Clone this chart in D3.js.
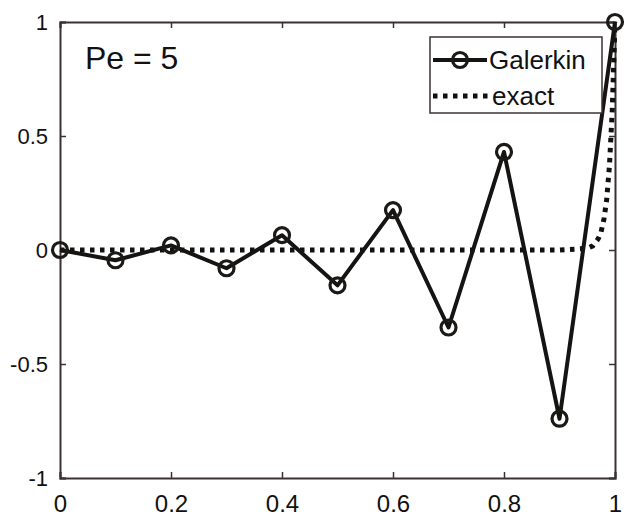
<!DOCTYPE html>
<html>
<head>
<meta charset="utf-8">
<script src="https://cdn.jsdelivr.net/npm/d3@7"></script>
<style>
  body { margin: 0; background: #fff; }
  svg text { font-family: "Liberation Sans", Arial, sans-serif; fill: #111; }
</style>
</head>
<body>
<div class="chart-area"></div>
<script>
// Galerkin solution at the nodes
var nodeX = [0, 0.1, 0.2, 0.3, 0.4, 0.5, 0.6, 0.7, 0.8, 0.9, 1.0];
var galerkinY = [0, -0.045, 0.02, -0.08, 0.065, -0.155, 0.175, -0.34, 0.43, -0.74, 1.0];

// exact solution (boundary layer near x = 1)
var exactX = [0, 0.1, 0.2, 0.3, 0.4, 0.5, 0.6, 0.7, 0.8, 0.9, 0.95, 0.96, 0.97, 0.975, 0.98, 0.985, 0.99, 0.995, 1.0];
var exactY = [0, 0, 0, 0, 0, 0, 0, 0, 0, 0, 0.007, 0.018, 0.05, 0.08, 0.135, 0.22, 0.37, 0.61, 1.0];

var xTicks = [0, 0.2, 0.4, 0.6, 0.8, 1];
var yTicks = [-1, -0.5, 0, 0.5, 1];
var yTickLabels = ["-1", "-0.5", "0", "0.5", "1"];

var margin = {top: 22, right: 11, bottom: 54, left: 60},
    W = 626, H = 532,
    width = W - margin.left - margin.right,
    height = H - margin.top - margin.bottom;

var svg = d3.select(".chart-area").append("svg")
    .attr("width", W)
    .attr("height", H);

var g = svg.append("g")
    .attr("transform", "translate(" + margin.left + "," + margin.top + ")");

var x = d3.scaleLinear().domain([0, 1]).range([0, width]);
var y = d3.scaleLinear().domain([-1, 1]).range([height, 0]);

var axisColor = "#3a3232";

// axes with inward ticks
var xAxis = g.append("g")
    .attr("transform", "translate(0," + height + ")")
    .call(d3.axisBottom(x).tickValues(xTicks).tickSize(-6).tickPadding(17)
        .tickFormat(function(d){ return d3.format("")(d); }));
xAxis.selectAll("text").style("font-size", "24px").attr("dy", "0.71em");

var xTop = g.append("g")
    .call(d3.axisTop(x).tickValues(xTicks).tickSize(-6).tickFormat(""));

var yAxis = g.append("g")
    .call(d3.axisLeft(y).tickValues(yTicks).tickSize(-6).tickPadding(12)
        .tickFormat(function(d, i){ return yTickLabels[i]; }));
yAxis.selectAll("text").style("font-size", "22px");

var yRight = g.append("g")
    .attr("transform", "translate(" + width + ",0)")
    .call(d3.axisRight(y).tickValues(yTicks).tickSize(-6).tickFormat(""));

[xAxis, xTop, yAxis, yRight].forEach(function(a){
    a.select(".domain").attr("stroke", axisColor).attr("stroke-width", 2);
    a.selectAll(".tick line").attr("stroke", axisColor).attr("stroke-width", 1.5);
});

// exact solution, dotted
var exactData = exactX.map(function(d, i){ return {x: d, y: exactY[i]}; });
var galData = nodeX.map(function(d, i){ return {x: d, y: galerkinY[i]}; });

var line = d3.line()
    .x(function(d){ return x(d.x); })
    .y(function(d){ return y(d.y); });

g.append("path")
    .datum(exactData)
    .attr("d", line)
    .attr("fill", "none")
    .attr("stroke", "#111")
    .attr("stroke-width", 5)
    .attr("stroke-dasharray", "4.5,5.5");

g.append("path")
    .datum(galData)
    .attr("d", line)
    .attr("fill", "none")
    .attr("stroke", "#161412")
    .attr("stroke-width", 4)
    .attr("stroke-linejoin", "round");

g.selectAll("circle.gal")
    .data(galData)
    .enter().append("circle")
    .attr("class", "gal")
    .attr("cx", function(d){ return x(d.x); })
    .attr("cy", function(d){ return y(d.y); })
    .attr("r", 7.5)
    .attr("fill", "none")
    .attr("stroke", "#1c1a16")
    .attr("stroke-width", 3.2);

// annotation
g.append("text")
    .attr("x", 25)
    .attr("y", 47)
    .style("font-size", "32px")
    .text("Pe = 5");

// legend
var lg = g.append("g").attr("transform", "translate(" + (430 - margin.left) + "," + (37 - margin.top) + ")");
lg.append("rect")
    .attr("width", 172).attr("height", 76)
    .attr("fill", "#fff")
    .attr("stroke", axisColor).attr("stroke-width", 1.5);
lg.append("line")
    .attr("x1", 3).attr("x2", 57).attr("y1", 23).attr("y2", 23)
    .attr("stroke", "#161412").attr("stroke-width", 4);
lg.append("circle")
    .attr("cx", 30).attr("cy", 23).attr("r", 7.5)
    .attr("fill", "none").attr("stroke", "#1c1a16").attr("stroke-width", 3.2);
lg.append("text").attr("x", 59).attr("y", 32).style("font-size", "26px").text("Galerkin");
lg.append("line")
    .attr("x1", 3).attr("x2", 58).attr("y1", 59).attr("y2", 59)
    .attr("stroke", "#111").attr("stroke-width", 5)
    .attr("stroke-dasharray", "4.5,5.5");
lg.append("text").attr("x", 62).attr("y", 68).style("font-size", "26px").text("exact");
</script>
</body>
</html>
